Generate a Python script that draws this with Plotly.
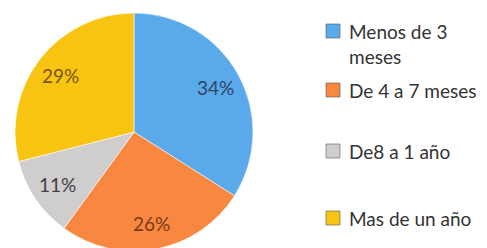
import math
import plotly.graph_objects as go

W, H = 487, 248
OFF = 8  # page body margin offset seen in the screenshot

categories = ["Menos de 3 meses", "De 4 a 7 meses", "De8 a 1 año", "Mas de un año"]
legend_labels = ["Menos de 3<br>meses", "De 4 a 7 meses", "De8 a 1 año", "Mas de un año"]
values = [34, 26, 11, 29]

colors = ["#5AA9EA", "#F8873F", "#CFCDCD", "#F7C511"]
text_colors = ["#2B4766", "#7A3A18", "#3F3F46", "#7A5410"]

FONT = "Lato, Open Sans, sans-serif"

# pie geometry (screen pixels)
cx, cy, r = 134 - OFF, 132 - OFF, 119

fig = go.Figure(go.Pie(
    labels=categories,
    values=values,
    sort=False,
    direction="clockwise",
    rotation=0,
    marker=dict(colors=colors, line=dict(color="rgba(255,255,255,0.55)", width=1)),
    textinfo="none",
    showlegend=False,
    hoverinfo="label+percent",
    domain=dict(x=[(cx - r) / W, (cx + r) / W], y=[(H - cy - r) / H, (H - cy + r) / H]),
))

annotations, shapes = [], []

# percentage labels placed at slice mid-angles
total = sum(values)
cum = 0
for v, tc in zip(values, text_colors):
    mid = (cum + v / 2) / total * 2 * math.pi
    cum += v
    px = cx + 0.78 * r * math.sin(mid)
    py = cy - 0.78 * r * math.cos(mid)
    annotations.append(dict(
        x=px / W, y=(H - py) / H, xref="paper", yref="paper",
        text=f"{round(v / total * 100)}%", showarrow=False,
        xanchor="center", yanchor="middle",
        font=dict(family=FONT, size=19, color=tc),
    ))

# custom legend
legend_y = [44, 90, 151, 218]
square_y = [31, 90, 151, 218]
sq_x0, sq = 326 - OFF, 14
text_x = 347 - OFF
for lab, col, ty, sy in zip(legend_labels, colors, legend_y, square_y):
    ty -= OFF
    sy -= OFF
    shapes.append(dict(
        type="rect", xref="paper", yref="paper",
        x0=sq_x0 / W, x1=(sq_x0 + sq) / W,
        y0=(H - sy - sq / 2) / H, y1=(H - sy + sq / 2) / H,
        fillcolor=col, line=dict(color="rgba(90,90,90,0.6)", width=1),
    ))
    annotations.append(dict(
        x=text_x / W, y=(H - ty) / H, xref="paper", yref="paper",
        text=lab, showarrow=False, xanchor="left", yanchor="middle", align="left",
        font=dict(family=FONT, size=19, color="#333333"),
    ))

fig.update_layout(
    width=W, height=H,
    margin=dict(l=0, r=0, t=0, b=0),
    paper_bgcolor="white", plot_bgcolor="white",
    shapes=shapes, annotations=annotations,
)

fig.write_html("out.html")
